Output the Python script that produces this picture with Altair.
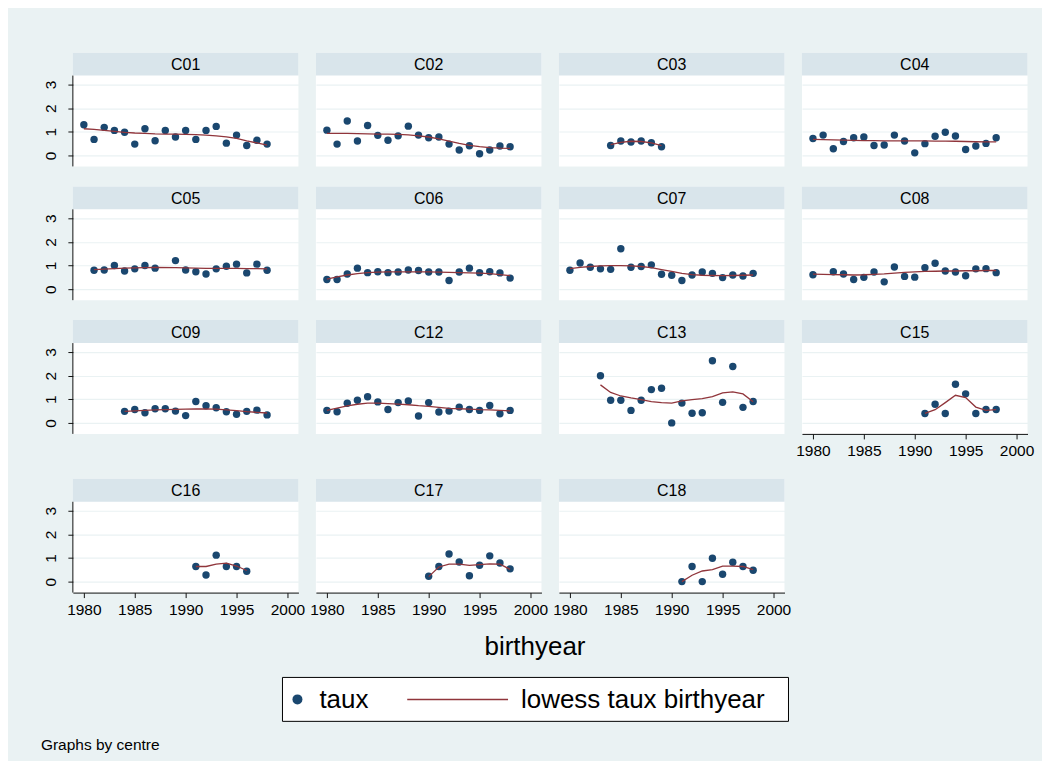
import altair as alt
import pandas as pd

# ---------------- data ----------------
centres = ["C01", "C02", "C03", "C04", "C05", "C06", "C07", "C08",
           "C09", "C12", "C13", "C15", "C16", "C17", "C18"]

years_c01 = list(range(1980, 1999))
taux_c01 = [1.30, 0.68, 1.19, 1.06, 0.98, 0.48, 1.13, 0.62, 1.06, 0.78, 1.06, 0.68, 1.06, 1.23, 0.52, 0.86, 0.42, 0.64, 0.48]
lowess_c01 = [1.13, 1.10, 1.06, 1.02, 0.98, 0.95, 0.93, 0.91, 0.90, 0.90, 0.89, 0.88, 0.86, 0.83, 0.79, 0.72, 0.62, 0.53, 0.44]

years_c02 = list(range(1980, 1999))
taux_c02 = [1.07, 0.48, 1.46, 0.61, 1.27, 0.85, 0.64, 0.83, 1.24, 0.86, 0.75, 0.78, 0.48, 0.23, 0.41, 0.07, 0.23, 0.40, 0.37]
lowess_c02 = [0.93, 0.93, 0.93, 0.92, 0.91, 0.90, 0.90, 0.89, 0.87, 0.83, 0.78, 0.70, 0.61, 0.51, 0.43, 0.37, 0.33, 0.31, 0.30]

years_c03 = [1984, 1985, 1986, 1987, 1988, 1989]
taux_c03 = [0.42, 0.61, 0.57, 0.61, 0.54, 0.37]
lowess_c03 = [0.46, 0.55, 0.60, 0.59, 0.53, 0.42]

years_c04 = list(range(1980, 1999))
taux_c04 = [0.72, 0.86, 0.28, 0.59, 0.75, 0.78, 0.42, 0.44, 0.86, 0.61, 0.11, 0.50, 0.81, 0.98, 0.82, 0.25, 0.40, 0.51, 0.75]
lowess_c04 = [0.68, 0.67, 0.66, 0.65, 0.64, 0.63, 0.63, 0.62, 0.62, 0.62, 0.62, 0.62, 0.61, 0.61, 0.60, 0.59, 0.58, 0.57, 0.57]

years_c05 = [1981, 1982, 1983, 1984, 1985, 1986, 1987, 1989, 1990, 1991, 1992, 1993, 1994, 1995, 1996, 1997, 1998]
taux_c05 = [0.80, 0.81, 1.00, 0.77, 0.86, 1.00, 0.89, 1.21, 0.81, 0.74, 0.64, 0.86, 0.97, 1.06, 0.69, 1.06, 0.80]
lowess_c05 = [0.83, 0.85, 0.87, 0.89, 0.90, 0.91, 0.92, 0.91, 0.90, 0.89, 0.88, 0.88, 0.88, 0.88, 0.87, 0.87, 0.86]

years_c06 = list(range(1980, 1999))
taux_c06 = [0.41, 0.41, 0.64, 0.89, 0.70, 0.74, 0.70, 0.73, 0.81, 0.79, 0.73, 0.73, 0.37, 0.73, 0.89, 0.70, 0.74, 0.69, 0.47]
lowess_c06 = [0.43, 0.52, 0.60, 0.66, 0.70, 0.72, 0.73, 0.73, 0.73, 0.73, 0.73, 0.72, 0.71, 0.70, 0.69, 0.68, 0.66, 0.62, 0.57]

years_c07 = list(range(1980, 1999))
taux_c07 = [0.80, 1.11, 0.93, 0.86, 0.84, 1.71, 0.93, 0.96, 1.03, 0.63, 0.59, 0.37, 0.60, 0.73, 0.67, 0.49, 0.60, 0.56, 0.67]
lowess_c07 = [0.87, 0.92, 0.96, 0.99, 1.00, 1.00, 0.99, 0.96, 0.91, 0.83, 0.75, 0.67, 0.62, 0.59, 0.58, 0.57, 0.58, 0.59, 0.60]

years_c08 = [1980] + list(range(1982, 1999))
taux_c08 = [0.61, 0.74, 0.64, 0.41, 0.50, 0.73, 0.31, 0.94, 0.54, 0.51, 0.91, 1.10, 0.77, 0.73, 0.57, 0.86, 0.87, 0.70]
lowess_c08 = [0.64, 0.62, 0.61, 0.60, 0.61, 0.63, 0.65, 0.68, 0.71, 0.73, 0.75, 0.76, 0.77, 0.77, 0.78, 0.78, 0.79, 0.79]

years_c09 = list(range(1984, 1999))
taux_c09 = [0.49, 0.57, 0.43, 0.60, 0.60, 0.50, 0.31, 0.91, 0.73, 0.64, 0.47, 0.37, 0.49, 0.54, 0.34]
lowess_c09 = [0.49, 0.51, 0.53, 0.55, 0.56, 0.57, 0.58, 0.59, 0.59, 0.58, 0.55, 0.52, 0.48, 0.45, 0.42]

years_c12 = list(range(1980, 1999))
taux_c12 = [0.53, 0.47, 0.83, 0.96, 1.11, 0.89, 0.57, 0.86, 0.93, 0.29, 0.86, 0.46, 0.50, 0.67, 0.57, 0.53, 0.74, 0.39, 0.53]
lowess_c12 = [0.53, 0.63, 0.72, 0.79, 0.84, 0.84, 0.82, 0.80, 0.77, 0.73, 0.70, 0.66, 0.62, 0.60, 0.58, 0.56, 0.55, 0.53, 0.51]

years_c13 = list(range(1983, 1999))
taux_c13 = [2.00, 0.96, 0.96, 0.53, 0.96, 1.41, 1.47, 0.00, 0.84, 0.41, 0.43, 2.63, 0.87, 2.39, 0.66, 0.91]
lowess_c13 = [1.61, 1.29, 1.14, 1.06, 0.99, 0.90, 0.86, 0.84, 0.93, 0.99, 1.03, 1.11, 1.27, 1.31, 1.23, 0.90]

years_c15 = list(range(1991, 1999))
taux_c15 = [0.40, 0.79, 0.40, 1.64, 1.23, 0.40, 0.57, 0.57]
lowess_c15 = [0.40, 0.56, 0.86, 1.17, 1.07, 0.67, 0.53, 0.56]

years_c16 = list(range(1991, 1997))
taux_c16 = [0.64, 0.28, 1.12, 0.64, 0.64, 0.44]
lowess_c16 = [0.64, 0.64, 0.74, 0.78, 0.66, 0.47]

years_c17 = list(range(1990, 1999))
taux_c17 = [0.23, 0.64, 1.17, 0.83, 0.25, 0.69, 1.09, 0.79, 0.54]
lowess_c17 = [0.21, 0.62, 0.74, 0.74, 0.69, 0.72, 0.75, 0.74, 0.52]

years_c18 = list(range(1991, 1999))
taux_c18 = [0.00, 0.64, 0.00, 0.99, 0.31, 0.82, 0.64, 0.48]
lowess_c18 = [0.00, 0.27, 0.45, 0.51, 0.66, 0.66, 0.64, 0.51]

x_ticks = [1980, 1985, 1990, 1995, 2000]
y_ticks = [0, 1, 2, 3]

series = {
    "C01": (years_c01, taux_c01, lowess_c01), "C02": (years_c02, taux_c02, lowess_c02),
    "C03": (years_c03, taux_c03, lowess_c03), "C04": (years_c04, taux_c04, lowess_c04),
    "C05": (years_c05, taux_c05, lowess_c05), "C06": (years_c06, taux_c06, lowess_c06),
    "C07": (years_c07, taux_c07, lowess_c07), "C08": (years_c08, taux_c08, lowess_c08),
    "C09": (years_c09, taux_c09, lowess_c09), "C12": (years_c12, taux_c12, lowess_c12),
    "C13": (years_c13, taux_c13, lowess_c13), "C15": (years_c15, taux_c15, lowess_c15),
    "C16": (years_c16, taux_c16, lowess_c16), "C17": (years_c17, taux_c17, lowess_c17),
    "C18": (years_c18, taux_c18, lowess_c18),
}

# ---------------- styling ----------------
FONT = "Liberation Sans"
BG = "#eaf2f3"
STRIP_C = "#d9e5eb"
NAVY = "#1a476f"
MAROON = "#90353b"
AXC = "#111111"

W, STRIP, PH = 226, 23, 91
H = STRIP + PH
Y_LO, Y_TOP = -0.465, 3.38
Y_HI = Y_TOP + STRIP * (Y_TOP - Y_LO) / PH
X_DOM = [1978.92, 2001.08]


def panel(name, show_x, show_y):
    yrs, tx, lw = series[name]
    pts_df = pd.DataFrame({"birthyear": yrs, "taux": tx})
    low_df = pd.DataFrame({"birthyear": yrs, "lowess": lw})
    lab_df = pd.DataFrame({"centre": [name]})

    xscale = alt.Scale(domain=X_DOM, nice=False, zero=False)
    yscale = alt.Scale(domain=[Y_LO, Y_HI], nice=False, zero=False)
    if show_x:
        xaxis = alt.Axis(values=x_ticks, format="d", title=None, grid=False,
                         tickSize=5, tickColor=AXC, domainColor=AXC, labelColor="#000",
                         labelFontSize=15.5, labelPadding=5, labelFlush=False,
                         labelOverlap=False)
    else:
        xaxis = None
    yaxis = alt.Axis(values=y_ticks, title=None, grid=True, gridColor=BG, gridWidth=1.2,
                     domain=False, ticks=show_y, labels=show_y, tickSize=5, tickColor=AXC,
                     labelAngle=270, labelAlign="center", labelBaseline="bottom",
                     labelFontSize=15.5, labelPadding=9, labelColor="#000")

    strip = alt.Chart(lab_df).mark_rect(color=STRIP_C).encode(
        x=alt.value(0), x2=alt.value(W), y=alt.value(0), y2=alt.value(STRIP))
    stext = alt.Chart(lab_df).mark_text(font=FONT, fontSize=16, color="#000",
                                        baseline="middle", align="center").encode(
        x=alt.value(W / 2), y=alt.value(STRIP / 2 + 1), text="centre:N")
    pts = alt.Chart(pts_df).mark_circle(color=NAVY, opacity=1, size=55).encode(
        x=alt.X("birthyear:Q", scale=xscale, axis=xaxis),
        y=alt.Y("taux:Q", scale=yscale, axis=yaxis))
    line = alt.Chart(low_df).mark_line(color=MAROON, strokeWidth=1.3).encode(
        x=alt.X("birthyear:Q", scale=xscale, axis=xaxis),
        y=alt.Y("lowess:Q", scale=yscale, axis=yaxis))
    layers = [strip, stext, pts, line]
    if show_y:
        rule = alt.Chart(lab_df).mark_rule(color=AXC, strokeWidth=1).encode(
            x=alt.value(0), y=alt.value(STRIP), y2=alt.value(H))
        layers.append(rule)
    return alt.layer(*layers).properties(
        width=W, height=H, view=alt.ViewBackground(fill="white", stroke=None))


rows_layout = [["C01", "C02", "C03", "C04"],
               ["C05", "C06", "C07", "C08"],
               ["C09", "C12", "C13", "C15"],
               ["C16", "C17", "C18"]]
bottom_of_col = {"C15", "C16", "C17", "C18"}

rows = []
for r in rows_layout:
    panels = [panel(c, c in bottom_of_col, i == 0) for i, c in enumerate(r)]
    rows.append(alt.hconcat(*panels, spacing=17.5, bounds="flush"))
grid = alt.vconcat(*rows, spacing=19)

# ---------------- bottom: axis title, legend, note ----------------
OX, OY = 73, 627   # page position of the bottom block origin (aligned to first plot)
one = pd.DataFrame({"k": [0]})


def px(x):
    return x - OX


def py(y):
    return y - OY


BW, BH = 1029 - OX, 752 - OY
xtitle = alt.Chart(one).mark_text(font=FONT, fontSize=26, color="#000", align="center",
                                  baseline="alphabetic").encode(
    x=alt.value(px(536)), y=alt.value(py(656)), text=alt.value("birthyear"))
box = alt.Chart(one).mark_rect(fill="white", stroke="#000", strokeWidth=1).encode(
    x=alt.value(px(283)), x2=alt.value(px(790)), y=alt.value(py(678)), y2=alt.value(py(722)))
sym = alt.Chart(one).mark_circle(color=NAVY, opacity=1, size=100).encode(
    x=alt.value(px(298)), y=alt.value(py(700)))
t1 = alt.Chart(one).mark_text(font=FONT, fontSize=26, color="#000", align="left",
                              baseline="middle").encode(
    x=alt.value(px(320)), y=alt.value(py(701)), text=alt.value("taux"))
lg = alt.Chart(one).mark_rule(color=MAROON, strokeWidth=1.5).encode(
    x=alt.value(px(408)), x2=alt.value(px(509)), y=alt.value(py(700)))
t2 = alt.Chart(one).mark_text(font=FONT, fontSize=26, color="#000", align="left",
                              baseline="middle").encode(
    x=alt.value(px(522)), y=alt.value(py(701)), text=alt.value("lowess taux birthyear"))
note = alt.Chart(one).mark_text(font=FONT, fontSize=15.5, color="#000", align="left",
                                baseline="middle").encode(
    x=alt.value(px(41)), y=alt.value(py(746)), text=alt.value("Graphs by centre"))
bottom = alt.layer(xtitle, box, sym, t1, lg, t2, note).properties(width=BW, height=BH)

chart = alt.vconcat(grid, bottom, spacing=8).properties(
    background=BG,
    padding={"left": 33, "top": 44, "right": 8, "bottom": 6},
).configure(font=FONT).configure_view(stroke=None).configure_axis(
    labelFont=FONT)

chart.save("out.html", embed_options={"renderer": "svg", "actions": False})
